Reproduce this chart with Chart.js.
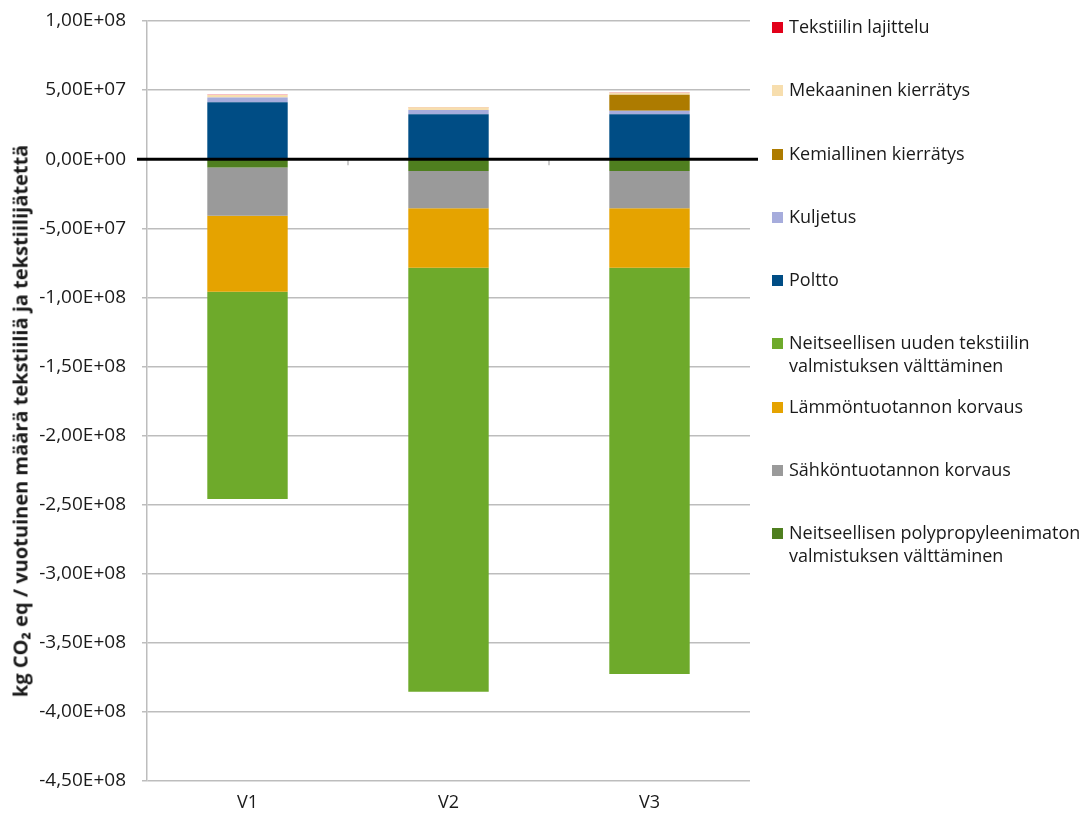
<!DOCTYPE html>
<html>
<head>
<meta charset="utf-8">
<script src="https://cdn.jsdelivr.net/npm/chart.js@4"></script>
<style>
    body { margin: 0; background: #fff; font-family: 'Open Sans', sans-serif; }
    #wrap { position: relative; width: 1090px; height: 816px; }
    #legend { position: absolute; left: 772px; top: 15px; margin: 0; padding: 0; list-style: none; }
    #legend li { height: 63.3px; display: flex; align-items: flex-start; font-size: 18px; line-height: 23px; color: #1a1a1a; }
    #legend .box { width: 11px; height: 11px; margin: 7px 6px 0 0; flex: none; }
    #legend .txt { white-space: pre-line; }
    #ytitle { position: absolute; left: 20px; top: 421px; transform: translate(-50%, -50%) rotate(-90deg);
              white-space: nowrap; font-size: 20px; font-weight: bold; color: #1a1a1a; }
</style>
</head>
<body>
<div id="wrap">
    <canvas id="co2Chart" width="1090" height="816"></canvas>
    <ul id="legend"></ul>
    <div id="ytitle"></div>
</div>
<script>
const categories = ['V1', 'V2', 'V3'];

// kg CO2 eq
const polypropyleeni = [-0.6e7, -0.85e7, -0.85e7];
const sahkontuotanto = [-3.5e7, -2.7e7, -2.7e7];
const lammontuotanto = [-5.5e7, -4.3e7, -4.3e7];
const uusiTekstiili = [-15.0e7, -30.7e7, -29.4e7];
const poltto = [4.12e7, 3.26e7, 3.26e7];
const kuljetus = [0.35e7, 0.3e7, 0.25e7];
const kemiallinen = [0, 0, 1.15e7];
const mekaaninen = [0.17e7, 0.2e7, 0.15e7];
const lajittelu = [0.02e7, 0.02e7, 0.02e7];

const yTicks = [1e8, 5e7, 0, -5e7, -1e8, -1.5e8, -2e8, -2.5e8, -3e8, -3.5e8, -4e8, -4.5e8];
const yTitle = 'kg CO₂ eq / vuotuinen määrä tekstiiliä ja tekstiilijätettä';

// stacking order (bottom of each stack first)
const series = [
    { label: 'Neitseellisen polypropyleenimaton\nvalmistuksen välttäminen', data: polypropyleeni, color: '#4f7f1f' },
    { label: 'Sähköntuotannon korvaus', data: sahkontuotanto, color: '#9a9a9a' },
    { label: 'Lämmöntuotannon korvaus', data: lammontuotanto, color: '#e5a300' },
    { label: 'Neitseellisen uuden tekstiilin\nvalmistuksen välttäminen', data: uusiTekstiili, color: '#6eaa2b' },
    { label: 'Poltto', data: poltto, color: '#004d85' },
    { label: 'Kuljetus', data: kuljetus, color: '#a6acdc' },
    { label: 'Kemiallinen kierrätys', data: kemiallinen, color: '#ad7b00' },
    { label: 'Mekaaninen kierrätys', data: mekaaninen, color: '#f7deae' },
    { label: 'Tekstiilin lajittelu', data: lajittelu, color: '#e2001a' }
];

function formatSci(v) {
    if (v === 0) return '0,00E+00';
    const parts = v.toExponential(2).split('e');
    const mant = parts[0].replace('.', ',');
    const exp = parseInt(parts[1], 10);
    const sign = exp < 0 ? '-' : '+';
    return mant + 'E' + sign + String(Math.abs(exp)).padStart(2, '0');
}

// zero line on top of bars + category tick marks, like the Excel original
const zeroLinePlugin = {
    id: 'zeroLine',
    afterDatasetsDraw(chart) {
        const { ctx, chartArea, scales } = chart;
        const y0 = scales.y.getPixelForValue(0);
        ctx.save();
        ctx.strokeStyle = '#bdbdbd';
        ctx.lineWidth = 1.5;
        const n = categories.length;
        for (let i = 1; i < n; i++) {
            const x = chartArea.left + (chartArea.right - chartArea.left) * i / n;
            ctx.beginPath();
            ctx.moveTo(x, y0);
            ctx.lineTo(x, y0 + 6);
            ctx.stroke();
        }
        ctx.strokeStyle = '#000';
        ctx.lineWidth = 3;
        ctx.beginPath();
        ctx.moveTo(chartArea.left - 10, y0);
        ctx.lineTo(chartArea.right + 8, y0);
        ctx.stroke();
        ctx.restore();
    }
};

const chart = new Chart(document.getElementById('co2Chart').getContext('2d'), {
    type: 'bar',
    data: {
        labels: categories,
        datasets: series.map(s => ({
            label: s.label,
            data: s.data,
            backgroundColor: s.color,
            borderWidth: 0,
            categoryPercentage: 0.4,
            barPercentage: 1
        }))
    },
    options: {
        responsive: false,
        animation: false,
        layout: { padding: { top: 21, right: 340, left: 0, bottom: 0 } },
        plugins: {
            legend: { display: false },
            tooltip: { enabled: false }
        },
        scales: {
            x: {
                stacked: true,
                grid: { display: false, drawTicks: false },
                border: { display: false },
                ticks: { color: '#1a1a1a', font: { family: 'Open Sans', size: 18 }, padding: 11 },
                afterFit: (scale) => { scale.height = 35; }
            },
            y: {
                stacked: true,
                min: -4.5e8,
                max: 1e8,
                afterBuildTicks: (scale) => { scale.ticks = yTicks.map(v => ({ value: v })); },
                afterFit: (scale) => {
                    scale.width = 147;
                    scale.paddingTop = 0;
                    scale.paddingBottom = 0;
                },
                grid: {
                    color: (ctx) => ctx.tick && ctx.tick.value === 0 ? 'rgba(0,0,0,0)' : '#bdbdbd',
                    lineWidth: 1.5,
                    tickLength: 5
                },
                border: { display: true, color: '#bdbdbd', width: 1.5 },
                ticks: {
                    color: '#1a1a1a',
                    font: { family: 'Open Sans', size: 19 },
                    padding: 16,
                    callback: (v) => formatSci(v)
                }
            }
        }
    },
    plugins: [zeroLinePlugin]
});

document.getElementById('ytitle').textContent = yTitle;

// legend, top item is the last stacked series
const legendEl = document.getElementById('legend');
series.slice().reverse().forEach(s => {
    const li = document.createElement('li');
    li.innerHTML = `<span class="box" style="background:${s.color}"></span><span class="txt"></span>`;
    li.querySelector('.txt').textContent = s.label;
    legendEl.appendChild(li);
});
</script>
</body>
</html>
